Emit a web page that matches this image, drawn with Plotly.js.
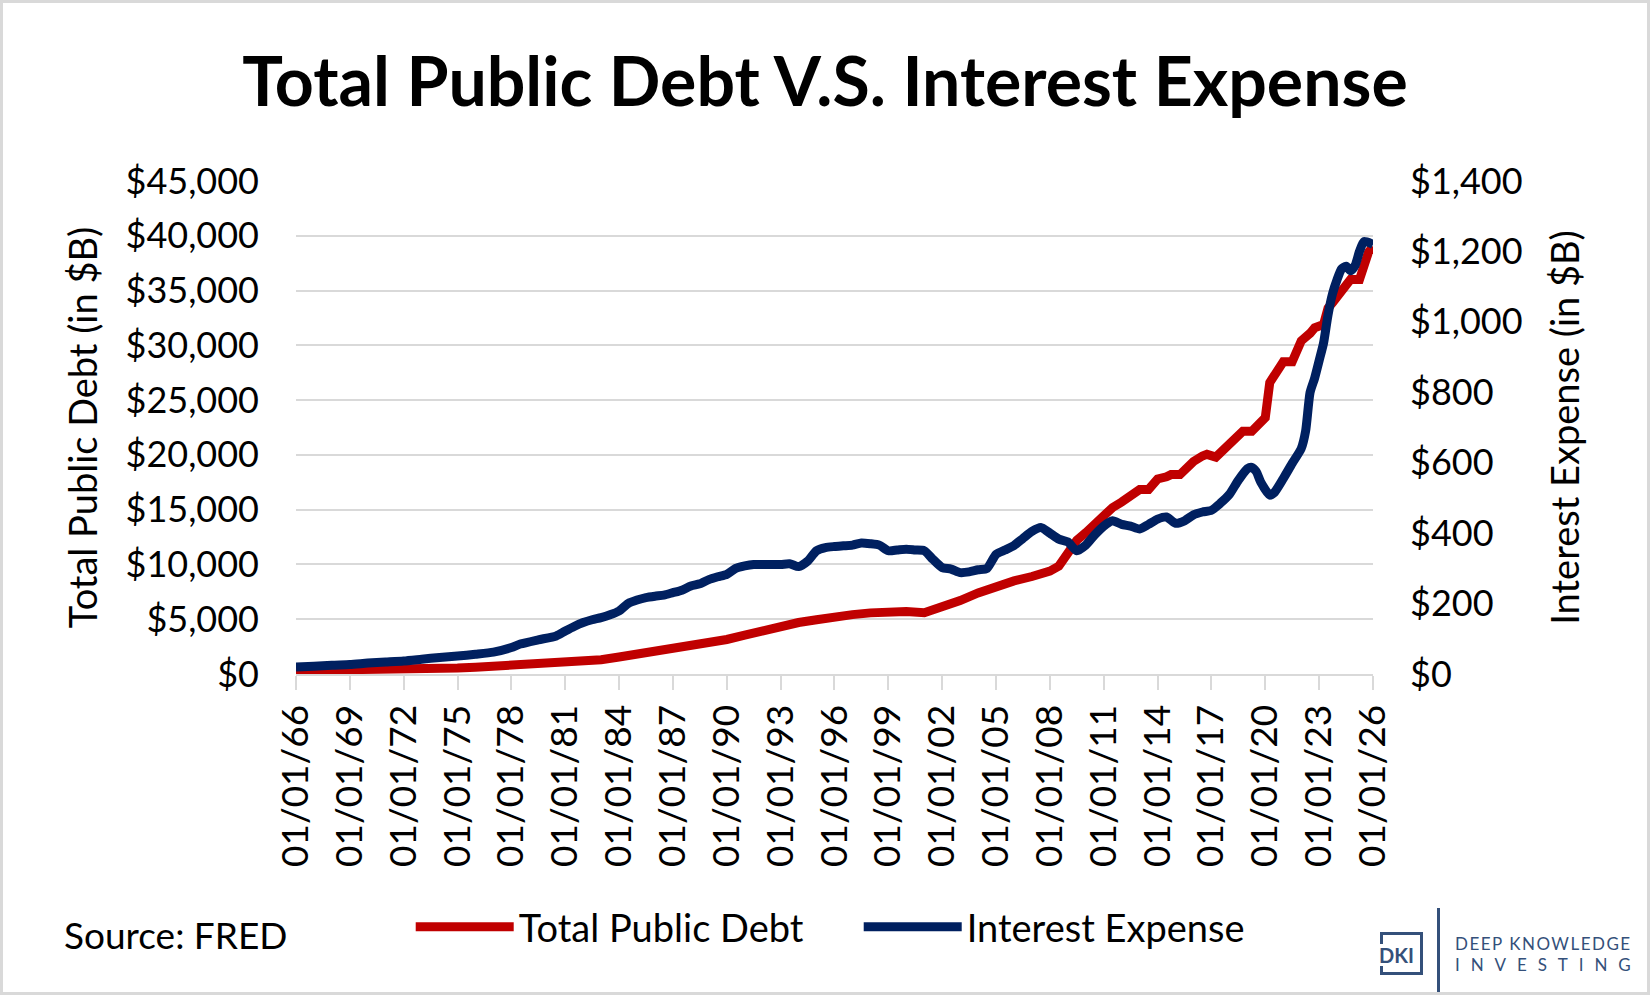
<!DOCTYPE html>
<html>
<head>
<meta charset="utf-8">
<script src="https://cdn.plot.ly/plotly-3.0.1.min.js"></script>
<style>
  html, body { margin: 0; padding: 0; background: #fff; }
  #frame { width: 1650px; height: 995px; box-sizing: border-box; border: 3px solid #d9d9d9; position: relative; overflow: hidden; }
  #chart { width: 1644px; height: 989px; }
  .logo { position: absolute; font-family: "Lato", sans-serif; color: #34507a; white-space: nowrap; }
  #dkibox { left: 1377px; top: 929px; width: 37px; height: 37px; border: 3px solid #34507a; }
  #dkitext { left: 1375px; top: 941px; font-size: 20px; font-weight: 700; line-height: 22px; background: #fff; padding: 0 1px; }
  #dkiline { left: 1434px; top: 905px; width: 3px; height: 90px; background: #34507a; }
  #dkiwords { left: 1452px; top: 930px; font-size: 17px; line-height: 21px; }
  #dkiwords .a { letter-spacing: 1.5px; }
  #dkiwords .b { letter-spacing: 10.9px; }
</style>
</head>
<body>
<div id="frame">
  <div id="chart"></div>
  <div class="logo" id="dkibox"></div>
  <div class="logo" id="dkitext">DKI</div>
  <div class="logo" id="dkiline"></div>
  <div class="logo" id="dkiwords"><span class="a">DEEP KNOWLEDGE</span><br><span class="b">INVESTING</span></div>
</div>
<script>
// Total public debt, $B
const debtDates = [
  "1966-01-01","1967-01-01","1968-01-01","1969-01-01","1970-01-01","1971-01-01","1972-01-01","1973-01-01",
  "1974-01-01","1975-01-01","1976-01-01","1977-01-01","1978-01-01","1979-01-01","1980-01-01","1981-01-01",
  "1982-01-01","1983-01-01","1984-01-01","1985-01-01","1986-01-01","1987-01-01","1988-01-01","1989-01-01",
  "1990-01-01","1991-01-01","1992-01-01","1993-01-01","1994-01-01","1995-01-01","1996-01-01","1997-01-01",
  "1998-01-01","1999-01-01","2000-01-01","2001-01-01","2002-01-01","2003-01-01","2004-01-01","2005-01-01",
  "2006-01-01","2007-01-01","2008-01-01","2008-07-01","2008-10-01","2009-01-01","2009-07-01","2010-01-01",
  "2010-07-01","2011-01-01","2011-07-01","2012-01-01","2012-07-01","2013-01-01","2013-07-01","2014-01-01",
  "2014-07-01","2014-10-01","2015-04-01","2016-01-01","2016-07-01","2016-10-01","2017-04-01","2018-01-01",
  "2018-07-01","2018-10-01","2019-04-01","2019-10-01","2020-01-01","2020-04-01","2020-07-01","2020-10-01",
  "2021-01-01","2021-07-01","2021-10-01","2022-01-01","2022-07-01","2022-10-01","2023-04-01","2023-07-01",
  "2023-10-01","2024-01-01","2024-04-01","2024-07-01","2024-10-01","2025-04-01","2025-07-01","2025-10-01",
  "2026-01-01"
];
const debtValues = [
  320, 329, 345, 358, 372, 392, 420, 455,
  475, 540, 620, 700, 780, 840, 900, 1000,
  1130, 1300, 1550, 1800, 2100, 2350, 2600, 2850,
  3150, 3550, 3950, 4370, 4700, 4950, 5280, 5420,
  5580, 5740, 5700, 5600, 6050, 6700, 7400, 8020,
  8500, 8900, 9390, 9850, 10500, 11200, 12200, 12900,
  13700, 14500, 15200, 15700, 16300, 16840, 16840, 17800,
  18000, 18200, 18200, 19400, 19900, 20050, 19800, 21100,
  21900, 22150, 22150, 23200, 23400, 26600, 27300, 27900,
  28500, 28500, 29500, 30400, 31100, 31600, 31900, 33400,
  33900, 34500, 35100, 35500, 36000, 36000, 37600, 38500,
  39000
];

// Interest expense, $B
const interestDates = [
  "1966-01-01","1967-01-01","1968-01-01","1969-01-01","1970-01-01","1971-01-01","1972-01-01","1973-01-01",
  "1974-01-01","1975-01-01","1976-01-01","1977-01-01","1978-01-01","1978-07-01","1979-07-01","1980-07-01",
  "1981-01-01","1981-07-01","1982-01-01","1982-07-01","1983-01-01","1983-07-01","1984-01-01","1984-07-01",
  "1985-01-01","1985-07-01","1986-01-01","1986-07-01","1987-01-01","1987-07-01","1988-01-01","1988-07-01",
  "1989-01-01","1989-07-01","1990-01-01","1990-07-01","1991-01-01","1991-07-01","1992-01-01","1993-01-01",
  "1993-07-01","1994-01-01","1994-07-01","1995-01-01","1995-07-01","1996-01-01","1996-07-01","1997-01-01",
  "1997-07-01","1998-01-01","1998-07-01","1999-01-01","1999-07-01","2000-01-01","2000-07-01","2001-01-01",
  "2001-07-01","2002-01-01","2002-07-01","2003-01-01","2003-07-01","2004-01-01","2004-07-01","2005-01-01",
  "2005-07-01","2006-01-01","2006-07-01","2007-01-01","2007-07-01","2008-01-01","2008-07-01","2009-01-01",
  "2009-07-01","2010-01-01","2010-07-01","2011-01-01","2011-07-01","2012-01-01","2012-07-01","2013-01-01",
  "2013-07-01","2014-01-01","2014-07-01","2015-01-01","2015-07-01","2016-01-01","2016-07-01","2017-01-01",
  "2017-07-01","2018-01-01","2018-07-01","2019-01-01","2019-04-01","2019-07-01","2019-10-01","2020-04-01",
  "2020-07-01","2021-01-01","2021-07-01","2022-01-01","2022-04-01","2022-07-01","2022-10-01","2023-01-01",
  "2023-04-01","2023-07-01","2023-10-01","2024-01-01","2024-04-01","2024-07-01","2024-10-01","2025-01-01",
  "2025-04-01","2025-07-01","2026-01-01"
];
const interestValues = [
  20, 22, 25, 27, 31, 34, 37, 42,
  47, 51, 56, 62, 75, 85, 97, 108,
  122, 135, 146, 154, 160, 168, 179, 200,
  210, 217, 221, 224, 231, 238, 250, 256,
  268, 276, 283, 300, 307, 311, 311, 311,
  313, 305, 320, 350, 359, 362, 364, 366,
  372, 370, 366, 350, 352, 354, 352, 350,
  325, 302, 298, 288, 290, 296, 300, 340,
  352, 365, 385, 405, 416, 400, 383, 375,
  350, 366, 395, 420, 435, 425, 420, 412,
  425, 440, 446, 428, 435, 452, 460, 465,
  485, 510, 550, 583, 587, 575, 545, 508,
  515, 555, 598, 640, 690, 800, 840, 890,
  940, 1020, 1080, 1120, 1150, 1158, 1145, 1160,
  1200, 1228, 1220
];

const leftTicks = [0, 5000, 10000, 15000, 20000, 25000, 30000, 35000, 40000, 45000];
const rightTicks = [0, 200, 400, 600, 800, 1000, 1200, 1400];

const RED = "#C00000";
const NAVY = "#002060";
const FONT = "Lato, 'Open Sans', sans-serif";

let debt = {
  x: debtDates,
  y: debtValues,
  name: "Total Public Debt",
  type: "scatter",
  mode: "lines",
  line: {color: RED, width: 9},
  yaxis: "y",
};

let interest = {
  x: interestDates,
  y: interestValues,
  name: "Interest Expense",
  type: "scatter",
  mode: "lines",
  line: {color: NAVY, width: 9, shape: "spline", smoothing: 0.6},
  yaxis: "y2",
};

let layout = {
  width: 1644,
  height: 989,
  margin: {l: 293, r: 274, t: 178, b: 318},
  paper_bgcolor: "#fff",
  plot_bgcolor: "#fff",
  font: {family: FONT, color: "#000"},
  showlegend: true,
  title: {
    text: "<b>Total Public Debt V.S. Interest Expense</b>",
    font: {family: FONT, size: 68, color: "#000"},
    x: 0.5, xref: "container",
    y: 1 - 79 / 989, yref: "container", yanchor: "middle",
  },
  xaxis: {
    type: "date",
    range: ["1966-01-01", "2026-01-01"],
    tick0: "1966-01-01",
    dtick: "M36",
    tickformat: "%m/%d/%y",
    tickangle: -90,
    tickfont: {family: FONT, size: 37},
    ticks: "outside",
    ticklen: 14,
    tickwidth: 2,
    tickcolor: "#d9d9d9",
    showline: true,
    linecolor: "#d9d9d9",
    linewidth: 2,
    showgrid: false,
    zeroline: false,
    fixedrange: true,
  },
  yaxis: {
    range: [0, 45000],
    tickvals: leftTicks,
    tickformat: "$,.0f",
    tickfont: {family: FONT, size: 36},
    ticklabelstandoff: 36,
    gridcolor: "#d9d9d9",
    gridwidth: 2,
    zeroline: false,
    showline: false,
    title: {text: "Total Public Debt (in $B)", font: {family: FONT, size: 38}, standoff: 16},
  },
  yaxis2: {
    range: [0, 1400],
    tickvals: rightTicks,
    tickformat: "$,.0f",
    tickfont: {family: FONT, size: 36},
    ticklabelstandoff: 36,
    overlaying: "y",
    side: "right",
    showgrid: false,
    zeroline: false,
    showline: false,
    title: {text: "Interest Expense (in $B)", font: {family: FONT, size: 38}, standoff: 30},
  },
  legend: {
    orientation: "h",
    xref: "container", yref: "container",
    x: 0.248, y: 1 - 924 / 989,
    xanchor: "left", yanchor: "middle",
    font: {family: FONT, size: 38},
    itemwidth: 98,
    entrywidth: 335,
    tracegroupgap: 0,
  },
  annotations: [
    {
      text: "Source: FRED",
      xref: "paper", yref: "paper",
      x: (59 - 293) / 1077, y: -(931 - 671) / 493,
      xanchor: "left", yanchor: "middle",
      showarrow: false,
      font: {family: FONT, size: 37, color: "#000"},
    },
  ],
};

Plotly.newPlot("chart", [debt, interest], layout, {
  displaylogo: false,
  displayModeBar: false,
  responsive: false,
});
</script>
</body>
</html>
